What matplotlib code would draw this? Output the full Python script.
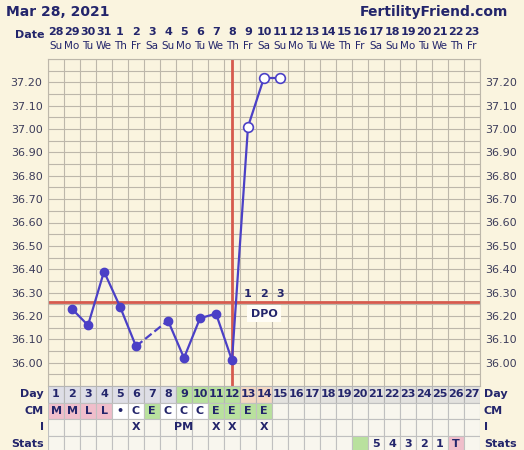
import numpy as np
import matplotlib.pyplot as plt
from matplotlib.patches import Rectangle
from matplotlib.transforms import blended_transform_factory

# Chart data
days = list(range(1, 28))
dates = [28, 29, 30, 31] + list(range(1, 24))
week = ["Su", "Mo", "Tu", "We", "Th", "Fr", "Sa"]
weekdays = [week[i % 7] for i in range(27)]

temp_days = [2, 3, 4, 5, 6, 8, 9, 10, 11, 12, 13, 14, 15]
temps = [36.23, 36.16, 36.39, 36.24, 36.07, 36.18, 36.02, 36.19, 36.21, 36.01, 37.01, 37.22, 37.22]
open_from = 13  # days from here on are open circles
coverline = 36.26
ovulation_day = 12
dpo_days = [13, 14, 15]

cm_vals = ["M", "M", "L", "L", "\u2022", "C", "E", "C", "C", "C", "E", "E", "E", "E"]
i_vals = {6: "X", 9: "PM", 11: "X", 12: "X", 14: "X"}
stats_vals = {21: "5", 22: "4", 23: "3", 24: "2", 25: "1", 26: "T"}

# Colours
bg = "#FAF4DF"
navy = "#23256B"
line_c = "#4B40C6"
red = "#D65A4E"
grid_c = "#BDB7AA"
pink = "#F0BECB"
green = "#B9E19E"
peach = "#F4D8C3"
dayrow = "#DEDEE6"
cell = "#F8F6EE"

W, H = 524, 450
fig = plt.figure(figsize=(W / 100, H / 100), dpi=100, facecolor=bg)

def box(l, t, r, b):
    return [l / W, 1 - b / H, (r - l) / W, (b - t) / H]

ax = fig.add_axes(box(48, 59, 480, 386))
ax.set_facecolor(bg)
ax.set_xlim(0.5, 27.5)
ax.set_ylim(35.90, 37.30)

ax.set_xticks(np.arange(0.5, 28, 1))
ax.set_yticks(np.round(np.arange(36.0, 37.21, 0.1), 2))
ax.set_yticks(np.round(np.arange(35.90, 37.31, 0.05), 2), minor=True)
ax.grid(True, which="both", color=grid_c, lw=0.8)
ax.set_axisbelow(True)
ax.tick_params(length=0, which="both", labelbottom=False, labelleft=True, labelright=True,
               labelsize=8, labelcolor="#3C3C5A", pad=4)
ax.yaxis.set_major_formatter(plt.FuncFormatter(lambda v, p: f"{v:.2f}"))
for s in ax.spines.values():
    s.set_color(grid_c)
    s.set_linewidth(0.8)

# coverline and ovulation line
ax.axhline(coverline, color=red, lw=2, zorder=2)
ax.axvline(ovulation_day, color=red, lw=2, zorder=2)

# temperature line: solid, dashed across missing days
td = np.array(temp_days)
tt = np.array(temps)
for k in range(len(td) - 1):
    ls = "-" if td[k + 1] - td[k] == 1 else "--"
    ax.plot(td[k:k + 2], tt[k:k + 2], color=line_c, lw=1.6, ls=ls, zorder=3)
filled = td < open_from
ax.plot(td[filled], tt[filled], "o", color=line_c, ms=6, zorder=4)
ax.plot(td[~filled], tt[~filled], "o", mfc="white", mec=line_c, mew=1.2, ms=7, zorder=4)

for i, d in enumerate(dpo_days):
    ax.text(d, 36.295, str(i + 1), ha="center", va="center", fontsize=8,
            fontweight="bold", color=navy, zorder=5)
ax.text(14, 36.21, "DPO", ha="center", va="center", fontsize=8, fontweight="bold",
        color=navy, zorder=5,
        bbox=dict(boxstyle="square,pad=0.35", fc="#FFFDF6", ec="none"))

# header
fig.text(6 / W, 1 - 12 / H, "Mar 28, 2021", fontsize=10, fontweight="bold",
         color=navy, va="center")
fig.text(508 / W, 1 - 12 / H, "FertilityFriend.com", fontsize=10, fontweight="bold",
         color=navy, va="center", ha="right")
tr = blended_transform_factory(ax.transData, fig.transFigure)
fig.text(44 / W, 1 - 35 / H, "Date", fontsize=8, fontweight="bold", color=navy,
         va="center", ha="right")
for d, dt, wd in zip(days, dates, weekdays):
    ax.text(d, 1 - 32 / H, str(dt), transform=tr, ha="center", va="center",
            fontsize=8, fontweight="bold", color=navy)
    ax.text(d, 1 - 46 / H, wd, transform=tr, ha="center", va="center",
            fontsize=7.5, color=navy)

# table below the chart
tab = fig.add_axes(box(48, 386, 480, 452))
tab.set_xlim(0.5, 27.5)
tab.set_ylim(4, 0)
tab.axis("off")
row_names = ["Day", "CM", "I", "Stats"]

for d in days:
    if d <= 8:
        c = dayrow
    elif d <= 12:
        c = green
    elif d <= 14:
        c = peach
    else:
        c = "#E3E2DF"
    tab.add_patch(Rectangle((d - 0.5, 0), 1, 1, fc=c, ec="#B5B5B5", lw=0.8))
    tab.text(d, 0.5, str(d), ha="center", va="center", fontsize=8,
             fontweight="bold", color=navy)

    cm = cm_vals[d - 1] if d <= len(cm_vals) else ""
    if cm in ("M", "L"):
        c = pink
    elif cm == "E":
        c = green
    elif cm:
        c = "white"
    else:
        c = cell
    tab.add_patch(Rectangle((d - 0.5, 1), 1, 1, fc=c, ec="#C0C0C0", lw=0.8))
    tab.text(d, 1.5, cm, ha="center", va="center", fontsize=8, fontweight="bold", color=navy)

    tab.add_patch(Rectangle((d - 0.5, 2), 1, 1, fc=cell, ec="#C0C0C0", lw=0.8))
    tab.text(d, 2.5, i_vals.get(d, ""), ha="center", va="center", fontsize=8,
             fontweight="bold", color=navy)

    sv = stats_vals.get(d, "")
    c = green if d == 20 else (pink if sv == "T" else cell)
    tab.add_patch(Rectangle((d - 0.5, 3), 1, 1, fc=c, ec="#C0C0C0", lw=0.8))
    tab.text(d, 3.5, sv, ha="center", va="center", fontsize=8, fontweight="bold", color=navy)

trt = blended_transform_factory(fig.transFigure, tab.transData)
for r, name in enumerate(row_names):
    tab.text(44 / W, r + 0.5, name, transform=trt, ha="right", va="center",
             fontsize=8, fontweight="bold", color=navy)
    tab.text(484 / W, r + 0.5, name, transform=trt, ha="left", va="center",
             fontsize=8, fontweight="bold", color=navy)

fig.savefig("out.png", dpi=100, facecolor=bg)
